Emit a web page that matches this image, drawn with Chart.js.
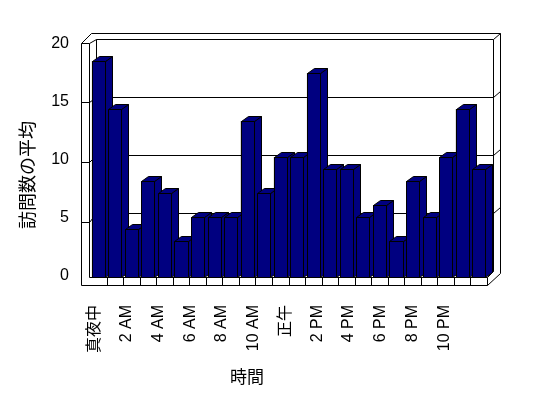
<!DOCTYPE html>
<html>
<head>
<meta charset="utf-8">
<style>
html,body{margin:0;padding:0;background:#fff;}
canvas{display:block;}
</style>
<script src="https://cdn.jsdelivr.net/npm/chart.js@4/dist/chart.umd.min.js"></script>
</head>
<body>
<canvas id="c" width="548" height="398"></canvas>
<script>
// ---- data ----
const categories = ["真夜中","1 AM","2 AM","3 AM","4 AM","5 AM","6 AM","7 AM","8 AM","9 AM","10 AM","11 AM",
                    "正午","1 PM","2 PM","3 PM","4 PM","5 PM","6 PM","7 PM","8 PM","9 PM","10 PM","11 PM"];
const visits = [18,14,4,8,7,3,5,5,5,13,7,10,10,17,9,9,5,6,3,8,5,10,14,9];
const xTickIndexes = [0,2,4,6,8,10,12,14,16,18,20,22];
const yTicks = [0,5,10,15,20];
const yTitle = "訪問数の平均";
const xTitle = "時間";

const FONT = '"Liberation Sans", "Noto Sans CJK JP", sans-serif';
const CJK = '"Noto Sans CJK JP", sans-serif';
const BAR = '#000080';
const DX = 7, DY = 5;

function line(ctx, pts){
  ctx.beginPath();
  pts.forEach((p,i)=>{ const x=Math.round(p[0])+0.5, y=Math.round(p[1])+0.5; i?ctx.lineTo(x,y):ctx.moveTo(x,y); });
  ctx.stroke();
}

const frame3d = {
  id:'frame3d',
  beforeDatasetsDraw(chart){
    const ctx = chart.ctx, a = chart.chartArea, xs = chart.scales.x, ys = chart.scales.y;
    const L=a.left, R=a.right, B=a.bottom;
    const bx0=L+6, bx1=R+6, by1=B-6, by0=ys.getPixelForValue(20)+2;
    const ox0=L-9, ox1=R+13, oTop=by0-6, wTop=by0+4;
    const yb = v => by1 - v*(by1-by0)/20;
    const yf = v => ys.getPixelForValue(v)+5;
    ctx.save();
    ctx.strokeStyle='#000'; ctx.lineWidth=1;
    ctx.fillStyle='#fff';
    ctx.fillRect(bx0,by0,bx1-bx0,by1-by0);
    line(ctx,[[ox0,wTop],[L+1,oTop],[ox1,oTop]]);
    line(ctx,[[ox0,wTop],[L-1,wTop],[bx0,by0]]);
    line(ctx,[[bx0,by0],[bx1,by0],[ox1,oTop]]);
    line(ctx,[[ox1,oTop],[ox1,B-4]]);
    line(ctx,[[bx1,by0],[bx1,by1]]);
    line(ctx,[[ox0,wTop],[ox0,B+8]]);
    line(ctx,[[L-1,wTop],[L-1,B]]);
    line(ctx,[[bx0,by0],[bx0,by1],[bx1,by1]]);
    yTicks.filter(v=>v>0 && v<20).forEach(v=>{
      line(ctx,[[ox0,yf(v)],[L-1,yf(v)],[bx0,yb(v)],[bx1,yb(v)],[ox1,yb(v)-6]]);
    });
    line(ctx,[[L-1,B],[R,B],[R,B+8],[ox0,B+8]]);
    line(ctx,[[R,B+8],[ox1,B-4]]);
    line(ctx,[[R,B],[bx1,by1]]);
    for(let i=1;i<categories.length;i++){
      const xb=(xs.getPixelForValue(i-1)+xs.getPixelForValue(i))/2;
      line(ctx,[[xb,B],[xb,B+8]]);
    }
    ctx.restore();
  },
  afterDatasetsDraw(chart){
    const ctx=chart.ctx, meta=chart.getDatasetMeta(0);
    ctx.save();
    ctx.strokeStyle='#000'; ctx.lineWidth=1; ctx.fillStyle=BAR;
    meta.data.forEach(el=>{
      const p=el.getProps(['x','y','base','width'],true);
      const l=Math.round(p.x-p.width/2)+0.5, r=Math.round(p.x+p.width/2)+0.5;
      const t=Math.round(p.y)+0.5, b=Math.round(p.base)+0.5;
      const poly=(pts)=>{ctx.beginPath();pts.forEach((q,i)=>i?ctx.lineTo(q[0],q[1]):ctx.moveTo(q[0],q[1]));ctx.closePath();ctx.fill();ctx.stroke();};
      poly([[r,t],[r+DX,t-DY],[r+DX,b-DY],[r,b]]);
      poly([[l,t],[l+DX,t-DY],[r+DX,t-DY],[r,t]]);
      poly([[l,t],[r,t],[r,b],[l,b]]);
    });
    ctx.restore();
  },
  afterDraw(chart){
    const ctx=chart.ctx;
    ctx.save();
    ctx.fillStyle='#000';
    ctx.textAlign='center'; ctx.textBaseline='middle';
    ctx.font='18px '+CJK;
    ctx.translate(27.5,175); ctx.rotate(-Math.PI/2);
    ctx.fillText(yTitle,0,0);
    ctx.setTransform(1,0,0,1,0,0);
    ctx.font='17px '+CJK;
    ctx.fillText(xTitle,247,377);
    ctx.restore();
  }
};

new Chart(document.getElementById('c'),{
  type:'bar',
  data:{
    labels:categories,
    datasets:[{data:visits, backgroundColor:BAR, borderColor:'#000', borderWidth:1, borderSkipped:false,
               barPercentage:0.79, categoryPercentage:1, xAxisID:'x', yAxisID:'y'}]
  },
  options:{
    responsive:false, animation:false, devicePixelRatio:1,
    layout:{padding:{left:0,right:61,top:37,bottom:0}},
    plugins:{legend:{display:false}, tooltip:{enabled:false}},
    scales:{
      x:{type:'category', offset:true, display:false},
      xL:{type:'linear', position:'bottom', offset:false, bounds:'data', grace:0,
         min:-0.315, max:24.70, grid:{display:false, offset:false}, border:{display:false},
         afterBuildTicks:(s)=>{ s.ticks=xTickIndexes.map(i=>({value:i})); },
         ticks:{autoSkip:false, minRotation:90, maxRotation:90, padding:20, color:'#000',
                font:{family:FONT, size:16},
                callback:(v)=> categories[v] ?? ''},
         afterFit:(s)=>{ s.height=121; s.paddingLeft=0; s.paddingRight=0; }},
      y:{display:false, min:0, max:20},
      yL:{position:'left', min:-0.086, max:20.6, grid:{display:false}, border:{display:false},
          afterBuildTicks:(s)=>{ s.ticks=yTicks.map(v=>({value:v})); },
          ticks:{padding:13, color:'#000', font:{family:FONT, size:16}, callback:(v)=>String(v)},
          afterFit:(s)=>{ s.width=90; s.paddingTop=0; s.paddingBottom=0; }}
    }
  },
  plugins:[frame3d]
});
</script>
</body>
</html>
